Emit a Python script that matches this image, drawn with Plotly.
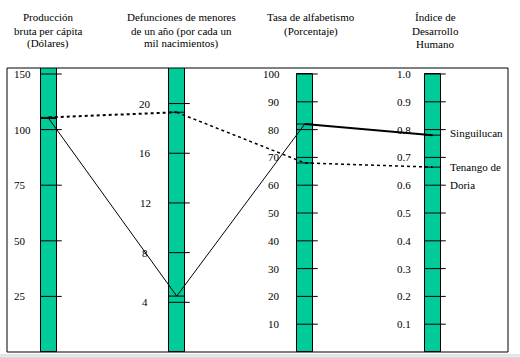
import plotly.graph_objects as go

# ---------------- data ----------------
axis_titles = [
    ["Producción", "bruta per cápita", "(Dólares)"],
    ["Defunciones de menores", "de un año (por cada un", "mil nacimientos)"],
    ["Tasa de alfabetismo", "(Porcentaje)"],
    ["Índice de", "Desarrollo", "Humano"],
]
# tick positions on each axis scale and the labels printed there
tick_vals_1 = [25, 50, 75, 100, 125]
tick_text_1 = ["25", "50", "75", "100", "150"]
tick_vals_2 = [4, 8, 12, 16, 20]
tick_text_2 = ["4", "8", "12", "16", "20"]
tick_vals_3 = [10, 20, 30, 40, 50, 60, 70, 80, 90, 100]
tick_text_3 = ["10", "20", "30", "40", "50", "60", "70", "80", "90", "100"]
tick_vals_4 = [0.1, 0.2, 0.3, 0.4, 0.5, 0.6, 0.7, 0.8, 0.9, 1.0]
tick_text_4 = ["0.1", "0.2", "0.3", "0.4", "0.5", "0.6", "0.7", "0.8", "0.9", "1.0"]
axis_max = [125, 22.38, 100, 1.0]     # value reaching the common 100 % height

series_names = ["Singuilucan", "Tenango de Doria"]
singuilucan = [105, 4.5, 82, 0.78]
tenango = [105.5, 19.3, 68, 0.665]

# ---------------- style ----------------
FONT = "'Liberation Serif', 'Times New Roman', 'DejaVu Serif', serif"
FS = 11
GREEN = "#00CC99"
PX = 128.0                 # pixels per axis step
BW = 16 / PX               # bar width
TICK_EXT = 5 / PX
Y_TOP = 284 / 278          # plot top relative to 100 % height
PLOT_H = 284.0

ticks = [(tick_vals_1, tick_text_1), (tick_vals_2, tick_text_2),
         (tick_vals_3, tick_text_3), (tick_vals_4, tick_text_4)]
bar_tops = [Y_TOP, Y_TOP, 1.0, 1.0]
label_anchor = ["left", "center", "right", "right"]
label_offset_px = [-35.7, -31.5, -23.5, -21.0]
title_offset_px = [-0.7, 5.0, 6.0, 2.5]
title_line_px = [17, 31, 44]   # line centres, px from top of page

def norm(v, i):
    return v / axis_max[i]

fig = go.Figure()

# green axis bars
fig.add_trace(go.Bar(
    x=list(range(4)), y=bar_tops, width=BW,
    marker=dict(color=GREEN, line=dict(color="black", width=1)),
    hoverinfo="skip"))

# tick marks
tx, ty = [], []
for i, (vals, _) in enumerate(ticks):
    for v in vals:
        tx += [i - BW / 2, i + BW / 2 + TICK_EXT, None]
        ty += [norm(v, i), norm(v, i), None]
fig.add_trace(go.Scatter(x=tx, y=ty, mode="lines",
                         line=dict(color="black", width=1), hoverinfo="skip"))

# data markers across bars
mx, my = [], []
for s in (singuilucan, tenango):
    for i, v in enumerate(s):
        mx += [i - BW / 2, i + BW / 2, None]
        my += [norm(v, i), norm(v, i), None]
fig.add_trace(go.Scatter(x=mx, y=my, mode="lines",
                         line=dict(color="black", width=1), hoverinfo="skip"))

# series lines
sy = [norm(v, i) for i, v in enumerate(singuilucan)]
ty2 = [norm(v, i) for i, v in enumerate(tenango)]
fig.add_trace(go.Scatter(x=[0, 1, 2], y=sy[:3], mode="lines",
                         line=dict(color="black", width=1), name=series_names[0]))
fig.add_trace(go.Scatter(x=[2, 3], y=sy[2:], mode="lines",
                         line=dict(color="black", width=2), name=series_names[0]))
fig.add_trace(go.Scatter(x=[0, 1], y=ty2[:2], mode="lines",
                         line=dict(color="black", width=2, dash="dot"), name=series_names[1]))
fig.add_trace(go.Scatter(x=[1, 2, 3], y=ty2[1:], mode="lines",
                         line=dict(color="black", width=1.5, dash="dot"), name=series_names[1]))

annotations = []
# tick labels
for i, (vals, texts) in enumerate(ticks):
    for v, t in zip(vals, texts):
        annotations.append(dict(
            x=i + label_offset_px[i] / PX, y=norm(v, i), xref="x", yref="y",
            text=t, showarrow=False, xanchor=label_anchor[i], yanchor="middle",
            font=dict(family=FONT, size=FS, color="black"), borderpad=0))

# axis titles
for i, lines in enumerate(axis_titles):
    for k, line in enumerate(lines):
        annotations.append(dict(
            x=i + title_offset_px[i] / PX, y=(352 - title_line_px[k]) / PLOT_H,
            xref="x", yref="paper", text=line, showarrow=False,
            xanchor="center", yanchor="middle",
            font=dict(family=FONT, size=FS, color="black"), borderpad=0))

# series labels at the right
lab_x = 3 + 16 / PX
annotations.append(dict(x=lab_x, y=sy[3], xref="x", yref="y", text="Singuilucan",
                        showarrow=False, xanchor="left", yanchor="middle", yshift=2,
                        font=dict(family=FONT, size=FS, color="black"), borderpad=0))
annotations.append(dict(x=lab_x, y=ty2[3], xref="x", yref="y", text="Tenango de",
                        showarrow=False, xanchor="left", yanchor="middle",
                        font=dict(family=FONT, size=FS, color="black"), borderpad=0))
annotations.append(dict(x=lab_x, y=ty2[3], xref="x", yref="y", text="Doria",
                        showarrow=False, xanchor="left", yanchor="middle", yshift=-18,
                        font=dict(family=FONT, size=FS, color="black"), borderpad=0))

shapes = [
    dict(type="rect", xref="paper", yref="paper", x0=0, x1=1, y0=0, y1=1,
         line=dict(color="black", width=1), layer="above"),
    dict(type="line", xref="paper", yref="paper", x0=-7 / 501, x1=1 + 12 / 501,
         y0=-3 / PLOT_H, y1=-3 / PLOT_H, line=dict(color="#c8c8c8", width=1)),
    dict(type="rect", xref="paper", yref="paper", x0=-7 / 501, x1=1 + 12 / 501,
         y0=-6 / PLOT_H, y1=-4.5 / PLOT_H, fillcolor="#d8d8d8", line=dict(width=0)),
]

fig.update_layout(
    width=520, height=358,
    margin=dict(l=7, r=12, t=68, b=6),
    paper_bgcolor="white", plot_bgcolor="white",
    showlegend=False,
    font=dict(family=FONT, size=FS, color="black"),
    xaxis=dict(range=[-0.326, 3.588], visible=False, fixedrange=True),
    yaxis=dict(range=[0, Y_TOP], visible=False, fixedrange=True),
    annotations=annotations, shapes=shapes,
    bargap=0,
)

fig.write_html("out.html", config={"displayModeBar": False},
               post_script="document.body.style.margin='0';document.body.style.overflow='hidden';")
